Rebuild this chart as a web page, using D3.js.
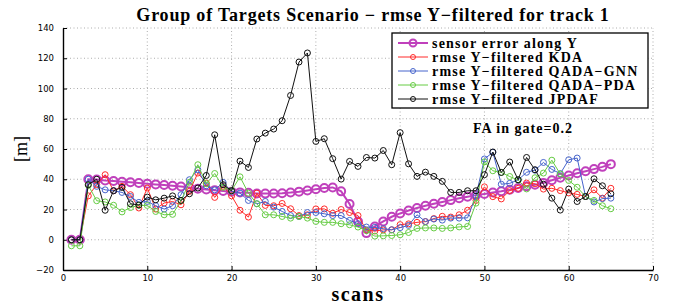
<html>
<head>
<meta charset="utf-8">
<title>rmse Y-filtered</title>
<script src="https://d3js.org/d3.v7.min.js"></script>
<style>
  body { margin: 0; background: #fff; }
  svg text { fill: #000; }
</style>
</head>
<body>
<script>
var width = 678, height = 304;

// data
var scans = [1,2,3,4,5,6,7,8,9,10,11,12,13,14,15,16,17,18,19,20,21,22,23,24,25,26,27,28,29,30,
             31,32,33,34,35,36,37,38,39,40,41,42,43,44,45,46,47,48,49,50,51,52,53,54,55,56,57,58,59,60,
             61,62,63,64,65];

var sensorErr = [0,0,40,39.8,39.2,38.8,38.4,38,37.5,37,36.6,36.2,35.7,35.2,34.5,33.8,33.3,32.8,32.3,31.8,
                 31.3,31,30.6,30.5,30.6,30.8,31.2,31.8,32.6,33.4,34.2,34.6,32,23.6,12,4.4,8.8,12.1,15.2,17.4,
                 19.3,21,22.5,23.8,25,26.2,27.4,28.5,29.5,30.3,31.2,32,33,34.2,35.3,36.4,37.6,39.3,41,42.5,
                 44,45.3,46.7,48.2,50];

var kda = [0,0,29,36.4,43,32.4,35.3,29.8,21,34.2,20.3,24.3,25.3,23.1,32,44.1,37.5,28,35.3,29,
           19.5,15,30.8,22.7,22.5,24,20.5,16,16.5,20.4,20.4,17.5,20,18,16,6.3,5.8,6.5,6.6,10,
           10.5,11.5,12,14,15.5,15,16.5,19.5,26,35,28.5,27,32.5,34,37.5,37,33.5,34,32.5,31,
           30,28.6,33,27.5,34];

var qadaGnn = [0,0,40,35.3,33,32.4,31.3,28.6,24.7,25.3,22.5,20.3,22.5,29.8,39.7,46.3,35.7,33,37.9,32,
               30.8,26,23.8,25.3,21.6,18.7,16,15.4,18,18,17.2,16,16,12.8,10.6,8.4,8.2,7.3,6.6,8,
               9.5,16.5,12,13.7,13,14.3,14.3,14.5,29,53.4,57.8,36.7,37.3,39.5,44.6,46,51.1,46.5,43.7,52.9,
               54,28.6,25,27.2,27.5];

var qadaPda = [-4,-4,36,25.8,25,22.8,18.4,21.3,22.7,22.7,18.7,16.5,16.8,25.8,38,49.6,37,43.8,34.7,32.5,
               41.6,30.8,23.8,16.5,16.5,15.4,14.3,15.4,14.3,12.1,11.5,11.5,10.6,9.9,8.4,6,2.4,2.6,2.8,3.3,
               4.8,7.5,7.8,7.8,7.5,7.8,8.5,8.8,24.2,51.5,45.6,44.5,41.8,39.5,33.6,41,44.1,52.6,43.4,39.2,
               34.7,28.6,26,22.5,20.5];

var jpdaf = [0,0,36.4,40,19.5,32.4,34.6,23.8,23,28.2,26.4,27.5,29,26,30.4,34.2,42.5,69.4,36.4,32.4,
             52,47.8,66.6,70.5,73.2,78.7,95.4,117.5,123.5,65,66.8,53.6,40.1,51.8,48.5,54.4,54,59,49.6,70.8,
             50.2,41.9,44.7,41.9,38.6,31.3,31.3,32.4,32.4,43,58,44.5,51.4,39.7,54.4,46.3,36.7,27.5,19.6,33.5,
             25.3,28.6,40.3,35.7,30.4];

var xTicks = [0,10,20,30,40,50,60,70];
var yTicks = [-20,0,20,40,60,80,100,120,140];

var seriesNames = ["sensor error along Y", "rmse Y\u2212filtered KDA", "rmse Y\u2212filtered QADA\u2212GNN",
                   "rmse Y\u2212filtered QADA\u2212PDA", "rmse Y\u2212filtered JPDAF"];
var seriesColors = ["#c040bc", "#ff2a2a", "#4664cc", "#66cc44", "#111111"];

var series = [sensorErr, kda, qadaGnn, qadaPda, jpdaf].map(function (vals, i) {
    return { name: seriesNames[i], color: seriesColors[i], values: vals, big: i === 0 };
});

var svg = d3.select("body").append("svg")
    .attr("width", width)
    .attr("height", height);

var x = d3.scaleLinear().domain([0, 70]).range([63, 653]);
var y = d3.scaleLinear().domain([-20, 140]).range([270, 28]);

// grid (dotted)
var grid = svg.append("g");
grid.selectAll("line.gx").data(xTicks.slice(1)).enter().append("line")
    .attr("x1", d => x(d)).attr("x2", d => x(d))
    .attr("y1", y(-20)).attr("y2", y(140))
    .attr("stroke", "#999").attr("stroke-width", 0.8).attr("stroke-dasharray", "1,2.5");
grid.selectAll("line.gy").data(yTicks.slice(1)).enter().append("line")
    .attr("x1", x(0)).attr("x2", x(70))
    .attr("y1", d => y(d)).attr("y2", d => y(d))
    .attr("stroke", "#999").attr("stroke-width", 0.8).attr("stroke-dasharray", "1,2.5");

// axes
var fmt = function (d) { return d < 0 ? "\u2212" + Math.abs(d) : d; };
var xAxis = svg.append("g").attr("transform", "translate(0," + y(-20) + ")")
    .call(d3.axisBottom(x).tickValues(xTicks).tickSizeInner(-4).tickSizeOuter(0).tickPadding(5).tickFormat(fmt));
var yAxis = svg.append("g").attr("transform", "translate(" + x(0) + ",0)")
    .call(d3.axisLeft(y).tickValues(yTicks).tickSizeInner(-4).tickSizeOuter(0).tickPadding(9).tickFormat(fmt));
[xAxis, yAxis].forEach(function (a) {
    a.select(".domain").attr("stroke", "#000").attr("stroke-width", 1.4);
    a.selectAll(".tick line").attr("stroke", "#000");
    a.selectAll("text").attr("font-family", "DejaVu Sans, sans-serif").attr("font-size", 8.5).attr("fill", "#333");
});

// lines + markers
var line = d3.line().x((d, i) => x(scans[i])).y(d => y(d));
series.forEach(function (s) {
    var g = svg.append("g");
    g.append("path").datum(s.values)
        .attr("d", line)
        .attr("fill", "none")
        .attr("stroke", s.color)
        .attr("stroke-width", s.big ? 2 : 1);
    g.selectAll("circle").data(s.values).enter().append("circle")
        .attr("cx", (d, i) => x(scans[i]))
        .attr("cy", d => y(d))
        .attr("r", s.big ? 4 : 3)
        .attr("fill", "none")
        .attr("stroke", s.color)
        .attr("stroke-width", s.big ? 2 : 1);
});

// title and labels
svg.append("text").attr("x", 373).attr("y", 21).attr("text-anchor", "middle")
    .attr("font-family", "Liberation Serif, serif").attr("font-weight", "bold").attr("font-size", 18)
    .attr("letter-spacing", 0.8)
    .text("Group of Targets Scenario \u2212 rmse Y\u2212filtered for track 1");
svg.append("text").attr("x", 358).attr("y", 301).attr("text-anchor", "middle")
    .attr("font-family", "Liberation Serif, serif").attr("font-weight", "bold").attr("font-size", 20)
    .attr("letter-spacing", 1.5)
    .text("scans");
svg.append("text").attr("transform", "translate(27,149) rotate(-90)").attr("text-anchor", "middle")
    .attr("font-family", "Liberation Serif, serif").attr("font-size", 18)
    .text("[m]");
svg.append("text").attr("x", 473).attr("y", 133)
    .attr("font-family", "Liberation Serif, serif").attr("font-weight", "bold").attr("font-size", 14)
    .attr("letter-spacing", 1)
    .text("FA in gate=0.2");

// legend
var leg = svg.append("g");
leg.append("rect").attr("x", 392).attr("y", 33).attr("width", 256).attr("height", 75)
    .attr("fill", "#fff").attr("stroke", "#000").attr("stroke-width", 1.3);
series.forEach(function (s, i) {
    var ly = 43 + i * 14;
    leg.append("line").attr("x1", 398).attr("x2", 428).attr("y1", ly).attr("y2", ly)
        .attr("stroke", s.color).attr("stroke-width", s.big ? 2 : 1);
    leg.append("circle").attr("cx", 413).attr("cy", ly).attr("r", s.big ? 3.5 : 2.5)
        .attr("fill", "none").attr("stroke", s.color).attr("stroke-width", s.big ? 2 : 1);
    leg.append("text").attr("x", 432).attr("y", ly + 4.5)
        .attr("font-family", "Liberation Serif, serif").attr("font-weight", "bold").attr("font-size", 14)
        .attr("letter-spacing", 1.2)
        .text(s.name);
});
</script>
</body>
</html>
